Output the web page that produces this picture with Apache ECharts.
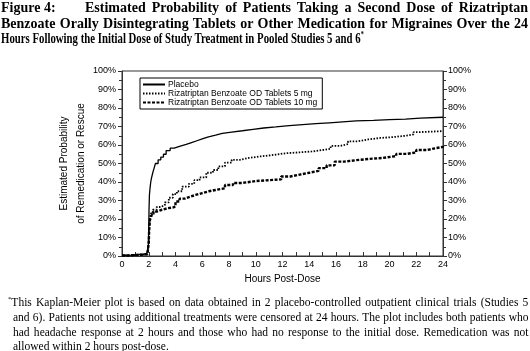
<!DOCTYPE html>
<html>
<head>
<meta charset="utf-8">
<script src="https://cdn.jsdelivr.net/npm/echarts@6/dist/echarts.min.js"></script>
<style>
  html, body { margin: 0; padding: 0; background: #fff; }
  #wrap { position: relative; width: 530px; height: 351px; overflow: hidden; }
  #chart { position: absolute; left: 0; top: 0; width: 530px; height: 351px; }
  /* the source pdf renders some of its serif text squeezed */
  .sq { position: absolute; transform-origin: 0 0; white-space: nowrap; color: #000; font-family: "Liberation Serif", serif; }
  .ttl { font-weight: bold; font-size: 14px; line-height: 15.5px; }
  .ttl.tight { transform: scaleX(0.77); }
  .note { font-size: 12px; line-height: 14.5px; transform: scaleX(0.96); }
  .just { text-align: justify; text-align-last: justify; white-space: normal; }
  sup { line-height: 0; }
  .ttl sup { font-size: 8px; vertical-align: 6px; }
  .note sup { font-size: 7px; vertical-align: 5px; }
</style>
</head>
<body>
<div id="wrap">
  <div id="chart"></div>
  <div class="sq ttl" style="left:1px; top:0px;">Figure 4:</div>
  <div class="sq ttl just" style="left:85px; top:0px; width:443px;">Estimated Probability of Patients Taking a Second Dose of Rizatriptan</div>
  <div class="sq ttl just" style="left:1px; top:15.5px; width:527px;">Benzoate Orally Disintegrating Tablets or Other Medication for Migraines Over the 24</div>
  <div class="sq ttl tight" style="left:1px; top:31px;">Hours Following the Initial Dose of Study Treatment in Pooled Studies 5 and 6<sup>*</sup></div>

  <div class="sq note just" style="left:8px; top:295px; width:542px;"><sup>*</sup>This Kaplan-Meier plot is based on data obtained in 2 placebo-controlled outpatient clinical trials (Studies 5</div>
  <div class="sq note just" style="left:13px; top:310px; width:537px;">and 6). Patients not using additional treatments were censored at 24 hours. The plot includes both patients who</div>
  <div class="sq note just" style="left:13px; top:324.5px; width:537px;">had headache response at 2 hours and those who had no response to the initial dose. Remedication was not</div>
  <div class="sq note" style="left:13px; top:339px;">allowed within 2 hours post-dose.</div>
</div>
<script>
// hours post-dose and estimated probability (%) for each treatment group
const seriesNames = ['Placebo', 'Rizatriptan Benzoate OD Tablets 5 mg', 'Rizatriptan Benzoate OD Tablets 10 mg'];

const placeboHours = [0, 0.3, 0.8, 1.2, 1.6, 1.85, 1.97, 2.0, 2.02, 2.05, 2.1, 2.15, 2.2, 2.3, 2.4, 2.5, 2.7, 2.9, 3.1, 3.3, 3.6, 3.9, 4.3, 4.8, 5.2, 5.6, 6.0, 6.4, 7.0, 7.5, 8.2, 9.0, 9.8, 10.6, 11.5, 12.5, 13.5, 14.5, 15.5, 16.5, 17.5, 18.8, 20.0, 21.2, 22.3, 24];
const placeboValues = [0.3, 0.5, 0.8, 1.0, 1.3, 2.0, 5, 15, 25, 33, 37, 40, 42, 45, 47.5, 50, 52, 53.5, 55, 57, 58.3, 59.3, 60.3, 61.3, 62.3, 63.3, 64.3, 65.3, 66.3, 67, 67.7, 68.5, 69.2, 69.8, 70.5, 71, 71.5, 72, 72.5, 73, 73.3, 73.7, 74, 74.5, 75, 75];

const od5Hours = [0, 0.5, 1.0, 1.5, 1.9, 2.0, 2.03, 2.08, 2.15, 2.3, 2.6, 2.9, 3.2, 3.5, 3.8, 4.1, 4.5, 5.0, 5.4, 5.8, 6.3, 6.8, 7.2, 7.7, 8.2, 8.8, 9.5, 10.3, 11.2, 12.2, 13.2, 14.2, 15.0, 15.6, 16.3, 16.9, 17.6, 18.4, 19.3, 20.3, 21.2, 21.8, 22.3, 24];
const od5Values = [0.3, 0.5, 0.7, 1.0, 1.3, 8, 15, 20, 23, 25, 26.5, 27.5, 29, 31.5, 33.5, 35, 37.5, 39, 41, 42.5, 45, 46.5, 48.5, 50.5, 52, 53, 53.8, 54.5, 55.5, 56, 56.5, 57.3, 58, 59.5, 60.5, 62, 63, 63.8, 64.3, 65, 65.8, 67, 67.5, 67.5];

const od10Hours = [0, 0.5, 1.0, 1.5, 1.9, 2.0, 2.03, 2.09, 2.2, 2.35, 2.6, 3.0, 3.4, 3.85, 4.0, 4.3, 4.7, 5.1, 5.5, 6.0, 6.5, 7.0, 7.7, 8.3, 9.0, 10.0, 11.0, 11.9, 12.6, 13.3, 14.0, 14.7, 15.3, 15.9, 16.6, 17.5, 18.5, 19.5, 20.5, 21.3, 22.0, 22.8, 23.4, 24];
const od10Values = [0.3, 0.5, 0.7, 1.0, 1.3, 7, 14, 19.5, 22, 24, 25, 25.8, 26.3, 26.8, 29.5, 31, 32, 33, 34, 35, 35.7, 36.6, 38.4, 39.5, 40.5, 41, 41.4, 43, 44, 45, 46, 47.5, 49, 51, 51.8, 52.5, 53, 54, 55.2, 56, 57.3, 58.2, 59, 60];

const xTicks = { min: 0, max: 24, interval: 2 };
const yTicks = { min: 0, max: 100, interval: 10 };

function pairs(xs, ys) {
  return xs.map((x, i) => [x, ys[i]]);
}

const chart = echarts.init(document.getElementById('chart'));

const axisFont = { fontFamily: 'Liberation Sans', fontSize: 9, color: '#000' };

const yAxisBase = {
  type: 'value',
  min: yTicks.min,
  max: yTicks.max,
  interval: yTicks.interval,
  axisLine: { show: true, lineStyle: { color: '#333', width: 1 } },
  axisTick: { show: true, inside: false, length: 4, lineStyle: { color: '#333' } },
  minorTick: { show: true, splitNumber: 2, length: 3, lineStyle: { color: '#333' } },
  splitLine: { show: false },
  axisLabel: Object.assign({ formatter: '{value}%', margin: 6 }, axisFont)
};

const option = {
  animation: false,
  backgroundColor: '#fff',
  grid: {
    left: 122, right: 87, top: 71, bottom: 95,
    show: true, borderColor: '#333', borderWidth: 1, backgroundColor: 'transparent'
  },
  legend: {
    orient: 'vertical',
    left: 140, top: 78,
    padding: [2, 5, 2, 2],
    itemGap: 0,
    itemWidth: 22,
    itemHeight: 9,
    backgroundColor: '#fff',
    borderColor: '#000',
    borderWidth: 1,
    itemStyle: { opacity: 0 },
    textStyle: { fontFamily: 'Liberation Sans', fontSize: 8.5, color: '#000', padding: [0, 0, 0, -2] },
    data: seriesNames
  },
  xAxis: {
    type: 'value',
    min: xTicks.min,
    max: xTicks.max,
    interval: xTicks.interval,
    name: 'Hours Post-Dose',
    nameLocation: 'middle',
    nameGap: 16,
    nameTextStyle: { fontFamily: 'Liberation Sans', fontSize: 10, color: '#000' },
    axisLine: { show: true, lineStyle: { color: '#333', width: 1 } },
    axisTick: { show: true, inside: true, length: 4, lineStyle: { color: '#333' } },
    minorTick: { show: true, splitNumber: 2, length: 4, lineStyle: { color: '#333' } },
    splitLine: { show: false },
    axisLabel: Object.assign({ margin: 4 }, axisFont)
  },
  yAxis: [
    Object.assign({}, yAxisBase, {
      position: 'left',
      name: 'Estimated Probability\n\nof Remedication or Rescue',
      nameLocation: 'middle',
      nameGap: 37,
      nameMoveOverlap: false,
      nameRotate: 90,
      nameTextStyle: { fontFamily: 'Liberation Sans', fontSize: 10, color: '#000', lineHeight: 8.5 }
    }),
    Object.assign({}, yAxisBase, {
      position: 'right',
      axisLabel: Object.assign({ formatter: '{value}%', margin: 5 }, axisFont)
    })
  ],
  series: [
    {
      name: seriesNames[0],
      type: 'line',
      step: 'end',
      showSymbol: false,
      symbol: 'none',
      data: pairs(placeboHours, placeboValues),
      lineStyle: { color: '#000', width: 1.3, type: 'solid' },
      itemStyle: { color: '#000' }
    },
    {
      name: seriesNames[1],
      type: 'line',
      step: 'end',
      showSymbol: false,
      symbol: 'none',
      data: pairs(od5Hours, od5Values),
      lineStyle: { color: '#000', width: 1.8, type: [1.5, 1.5] },
      itemStyle: { color: '#000' }
    },
    {
      name: seriesNames[2],
      type: 'line',
      step: 'end',
      showSymbol: false,
      symbol: 'none',
      data: pairs(od10Hours, od10Values),
      lineStyle: { color: '#000', width: 2.4, type: [3, 1.5] },
      itemStyle: { color: '#000' }
    }
  ]
};

chart.setOption(option);
</script>
</body>
</html>
